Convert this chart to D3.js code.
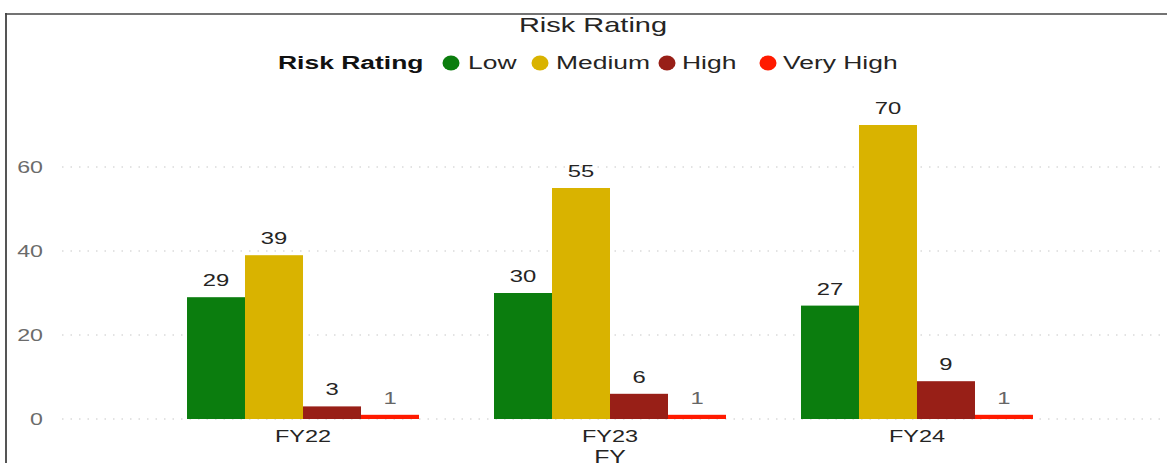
<!DOCTYPE html>
<html><head><meta charset="utf-8">
<script src="https://cdn.jsdelivr.net/npm/d3@7"></script>
<style>
html,body{margin:0;padding:0;background:#fff;}
svg{display:block;font-family:"Liberation Sans",Arial,sans-serif;}
</style></head>
<body>
<svg id="chart" width="1167" height="463"></svg>
<script>
const categories = ["FY22", "FY23", "FY24"];
const seriesNames = ["Low", "Medium", "High", "Very High"];
const seriesColors = ["#0B7D0E", "#D9B300", "#981F17", "#FF1A00"];
const lowValues = [29, 30, 27];
const mediumValues = [39, 55, 70];
const highValues = [3, 6, 9];
const veryHighValues = [1, 1, 1];
const yTicks = [0, 20, 40, 60];

const seriesValues = [lowValues, mediumValues, highValues, veryHighValues];
const data = categories.map((c, i) => ({cat: c, vals: seriesNames.map((s, j) => ({s, j, v: seriesValues[j][i]}))}));

const SX = 1.45; // horizontal text stretch seen in the reference
const svg = d3.select("#chart");
const W = 1167, H = 463;

function stext(parent, x, y, str, size, opts = {}) {
  return parent.append("text")
    .attr("transform", `translate(${x},${y}) scale(${opts.sx || SX},1)`)
    .attr("text-anchor", opts.anchor || "start")
    .attr("fill", opts.fill || "#252423")
    .style("font-size", size + "px")
    .style("font-weight", opts.bold ? "bold" : "normal")
    .text(str);
}

// frame
svg.append("line").attr("x1", 6).attr("x2", 6).attr("y1", 13).attr("y2", H).attr("stroke", "#555").attr("stroke-width", 2);
svg.append("line").attr("x1", 5).attr("x2", W).attr("y1", 14).attr("y2", 14).attr("stroke", "#444").attr("stroke-width", 1.5);

const y = d3.scaleLinear().domain([0, 60]).range([419, 167]);
const x = d3.scaleBand().domain(categories).range([149.5, 1070.5]).paddingInner(0.2443).paddingOuter(0.1222);
const xi = d3.scaleBand().domain(seriesNames).range([0, x.bandwidth()]);

// gridlines
svg.append("g").selectAll("line").data(yTicks).join("line")
  .attr("x1", 62).attr("x2", W).attr("y1", d => y(d)).attr("y2", d => y(d))
  .attr("stroke", "#c8c8c8").attr("stroke-width", 1.2).attr("stroke-dasharray", "1.5,7");

// y axis
const yAxis = svg.append("g").attr("transform", "translate(43,0)")
  .call(d3.axisLeft(y).tickValues(yTicks).tickSize(0).tickPadding(0));
yAxis.select(".domain").remove();
yAxis.selectAll("text").attr("fill", "#6b6b6b").attr("transform", `scale(${SX},1)`)
  .style("font-size", "16px").style("font-family", "'Liberation Sans',Arial,sans-serif");

// bars
const groups = svg.append("g").selectAll("g").data(data).join("g")
  .attr("transform", d => `translate(${x(d.cat)},0)`);
groups.selectAll("rect").data(d => d.vals).join("rect")
  .attr("x", d => xi(d.s)).attr("width", xi.bandwidth())
  .attr("y", d => y(d.v)).attr("height", d => y(0) - y(d.v))
  .attr("fill", d => seriesColors[d.j]);
groups.each(function(d) {
  const g = d3.select(this);
  d.vals.forEach(v => {
    stext(g, xi(v.s) + xi.bandwidth() / 2, y(v.v) - 11, v.v, 17,
      {anchor: "middle", fill: v.v === 1 ? "#666" : "#252423", sx: 1.4});
  });
});

// x axis
const xAxis = svg.append("g").attr("transform", "translate(0,419)")
  .call(d3.axisBottom(x).tickSize(0).tickPadding(0));
xAxis.select(".domain").remove();
xAxis.selectAll("text").attr("fill", "#252423").attr("dy", "0").attr("y", 0)
  .attr("transform", `translate(0,23) scale(${1.38},1)`)
  .style("font-size", "17px").style("font-family", "'Liberation Sans',Arial,sans-serif");

stext(svg, x("FY23") + x.bandwidth() / 2, 463, "FY", 18, {anchor: "middle", sx: 1.38});

// title
stext(svg, 593, 32, "Risk Rating", 20, {anchor: "middle", fill: "#252423"});

// legend
const leg = svg.append("g");
stext(leg, 278, 69, "Risk Rating", 18, {bold: true, fill: "#111", sx: 1.47});
const legCircleX = [451, 540, 667, 768];
const legTextX = [468, 556, 682, 783];
seriesNames.forEach((s, j) => {
  leg.append("ellipse").attr("cx", legCircleX[j]).attr("cy", 63).attr("rx", 8.5).attr("ry", 7.5).attr("fill", seriesColors[j]);
  stext(leg, legTextX[j], 69, s, 18, {sx: 1.47});
});
</script>
</body></html>
